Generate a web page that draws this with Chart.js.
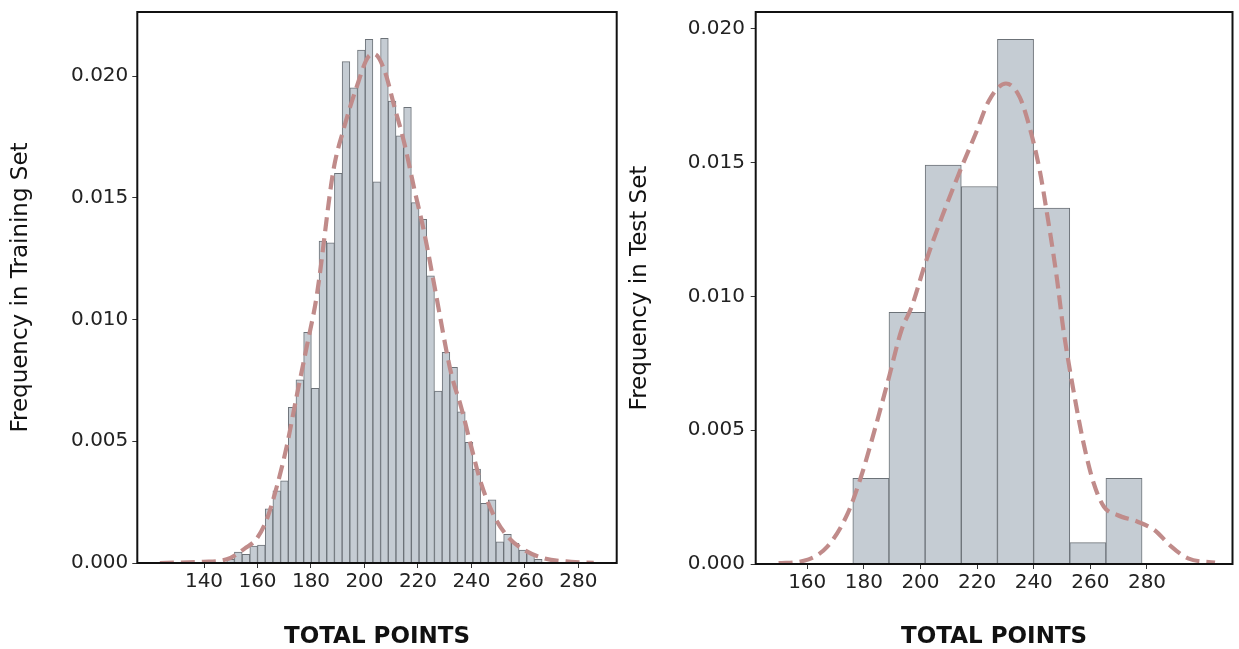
<!DOCTYPE html>
<html>
<head>
<meta charset="utf-8">
<script src="https://cdn.jsdelivr.net/npm/chart.js@4.4.0/dist/chart.umd.min.js"></script>
<style>
  html, body { margin: 0; padding: 0; background: #fff; }
  #trainChart { position: absolute; left: 0; top: 0; }
  #testChart { position: absolute; left: 625px; top: 0; }
</style>
</head>
<body>
<canvas id="trainChart" width="625" height="649"></canvas>
<canvas id="testChart" width="614" height="649"></canvas>
<script>
// training set histogram (density), 41 bins
const trainBinStart = 148.5;
const trainBinWidth = 2.876;
const trainFreq = [0.00015, 0.00045, 0.00036, 0.0007, 0.00074, 0.00222, 0.00296, 0.00337,
  0.00639, 0.00752, 0.00947, 0.00717, 0.01322, 0.01315, 0.016, 0.02059, 0.01952, 0.02107,
  0.02151, 0.01565, 0.02155, 0.01897, 0.01754, 0.01871, 0.0148, 0.01411, 0.01179, 0.00706,
  0.00865, 0.00804, 0.00621, 0.00496, 0.00386, 0.00245, 0.00259, 0.00087, 0.00118, 0.00081,
  0.00053, 0.0004, 0.00015];
// kde curve
const trainKdeX = [123.5, 139.7, 148.5, 155.3, 159.7, 163.4, 167.2, 170.9, 174.6, 178.4, 182.1,
  188.4, 192.1, 197.1, 201.5, 203.7, 207.4, 211.2, 214.9, 218.7, 222.4, 226.2, 232.4, 236.1,
  239.9, 243.6, 248.6, 253.6, 259.8, 267.3, 277.3, 285.7];
const trainKdeY = [0, 0.00005, 0.00015, 0.0006, 0.001, 0.00177, 0.00313, 0.00478, 0.00683,
  0.00888, 0.01094, 0.01614, 0.01778, 0.01956, 0.0208, 0.0209, 0.02025, 0.01874, 0.01724,
  0.01532, 0.01354, 0.01135, 0.00779, 0.00642, 0.00478, 0.00327, 0.0019, 0.00108, 0.00053,
  0.00019, 0.00005, 0.00001];
const trainXTicks = [140, 160, 180, 200, 220, 240, 260, 280];

// test set histogram, 8 bins
const testBinStart = 176.1;
const testBinWidth = 12.77;
const testFreq = [0.0032, 0.0094, 0.0149, 0.0141, 0.0196, 0.0133, 0.0008, 0.0032];
const testKdeX = [149.9, 158.8, 167.1, 174.3, 179.0, 183.8, 188.6, 193.3, 196.9, 201.7, 207.6,
  213.6, 219.5, 224.3, 230.2, 235.0, 238.5, 242.1, 244.5, 248.1, 250.5, 254.0, 257.6, 261.2,
  264.8, 269.5, 276.7, 282.6, 288.6, 294.5, 304.0];
const testKdeY = [0.00003, 0.00012, 0.00065, 0.00189, 0.00326, 0.005, 0.00687, 0.00874, 0.00961,
  0.01123, 0.01297, 0.01459, 0.01608, 0.01733, 0.01795, 0.01745, 0.01633, 0.01471, 0.01322,
  0.01073, 0.00874, 0.0065, 0.00451, 0.00301, 0.00214, 0.00183, 0.00158, 0.00127, 0.00065,
  0.00021, 0.00005];
const testXTicks = [160, 180, 200, 220, 240, 260, 280];

const barFill = '#c5ccd3';
const barEdge = '#6c7278';
const kdeColor = '#c08b8a';

const framePlugin = {
  id: 'frame',
  afterDatasetsDraw(chart) {
    const a = chart.chartArea;
    const ctx = chart.ctx;
    ctx.save();
    ctx.strokeStyle = '#111';
    ctx.lineWidth = 2;
    ctx.strokeRect(a.left, a.top, a.right - a.left, a.bottom - a.top);
    ctx.restore();
  }
};

// stop the axes from pushing the plot area in for label overhang
function noPad(axis) {
  axis.paddingTop = 0;
  axis.paddingBottom = 0;
  axis.paddingLeft = 0;
  axis.paddingRight = 0;
}

function makeHist(canvas, s) {
  const bars = s.freq.map((v, i) => ({ x: s.binStart + s.binWidth * (i + 0.5), y: v }));
  const kde = s.kdeX.map((x, i) => ({ x: x, y: s.kdeY[i] }));
  return new Chart(canvas, {
    type: 'bar',
    data: {
      datasets: [
        {
          type: 'line',
          data: kde,
          borderColor: kdeColor,
          borderWidth: 4.2,
          borderDash: [14, 7],
          pointRadius: 0,
          cubicInterpolationMode: 'monotone',
          fill: false,
          order: 0
        },
        {
          data: bars,
          backgroundColor: barFill,
          borderColor: barEdge,
          borderWidth: 1,
          barPercentage: 1,
          categoryPercentage: 1,
          order: 1
        }
      ]
    },
    options: {
      responsive: false,
      animation: false,
      layout: { padding: { left: 0, right: s.padRight, top: 12, bottom: 0 } },
      plugins: { legend: { display: false }, tooltip: { enabled: false } },
      scales: {
        x: {
          type: 'linear',
          min: s.xMin,
          max: s.xMax,
          offset: false,
          grid: { offset: false, drawOnChartArea: false, drawTicks: true, tickLength: 5, color: '#333' },
          border: { display: false },
          afterBuildTicks: axis => { axis.ticks = s.xTicks.map(v => ({ value: v })); },
          afterFit: axis => { axis.height = s.xAxisHeight; noPad(axis); },
          ticks: {
            padding: 2,
            maxRotation: 0,
            autoSkip: false,
            color: '#222',
            font: { family: 'DejaVu Sans', size: 20 }
          },
          title: {
            display: true,
            text: 'TOTAL POINTS',
            color: '#111',
            padding: { top: 0, bottom: 0.5 },
            font: { family: 'DejaVu Sans', size: 23, weight: 'bold', lineHeight: 1 }
          }
        },
        y: {
          min: 0,
          max: s.yMax,
          grid: { drawOnChartArea: false, drawTicks: true, tickLength: 5, color: '#333' },
          border: { display: false },
          afterFit: axis => { axis.width = s.yAxisWidth; noPad(axis); },
          ticks: {
            stepSize: 0.005,
            includeBounds: false,
            padding: s.yTickPad,
            color: '#222',
            font: { family: 'DejaVu Sans', size: 20 },
            callback: v => v.toFixed(3)
          },
          title: {
            display: true,
            text: s.yTitle,
            color: '#111',
            padding: { top: s.yTitlePad, bottom: 0 },
            font: { family: 'DejaVu Sans', size: 23 }
          }
        }
      }
    },
    plugins: [framePlugin]
  });
}

makeHist(document.getElementById('trainChart'), {
  freq: trainFreq, binStart: trainBinStart, binWidth: trainBinWidth,
  kdeX: trainKdeX, kdeY: trainKdeY, xTicks: trainXTicks,
  xMin: 115.06, xMax: 294.3, yMax: 0.02263,
  padRight: 8.3, yAxisWidth: 137.3, xAxisHeight: 86, yTickPad: 4, yTitlePad: 7,
  yTitle: 'Frequency in Training Set'
});

makeHist(document.getElementById('testChart'), {
  freq: testFreq, binStart: testBinStart, binWidth: testBinWidth,
  kdeX: testKdeX, kdeY: testKdeY, xTicks: testXTicks,
  xMin: 141.8, xMax: 310.2, yMax: 0.02062,
  padRight: 6.5, yAxisWidth: 130.7, xAxisHeight: 85, yTickPad: 5.7, yTitlePad: 1,
  yTitle: 'Frequency in Test Set'
});
</script>
</body>
</html>
